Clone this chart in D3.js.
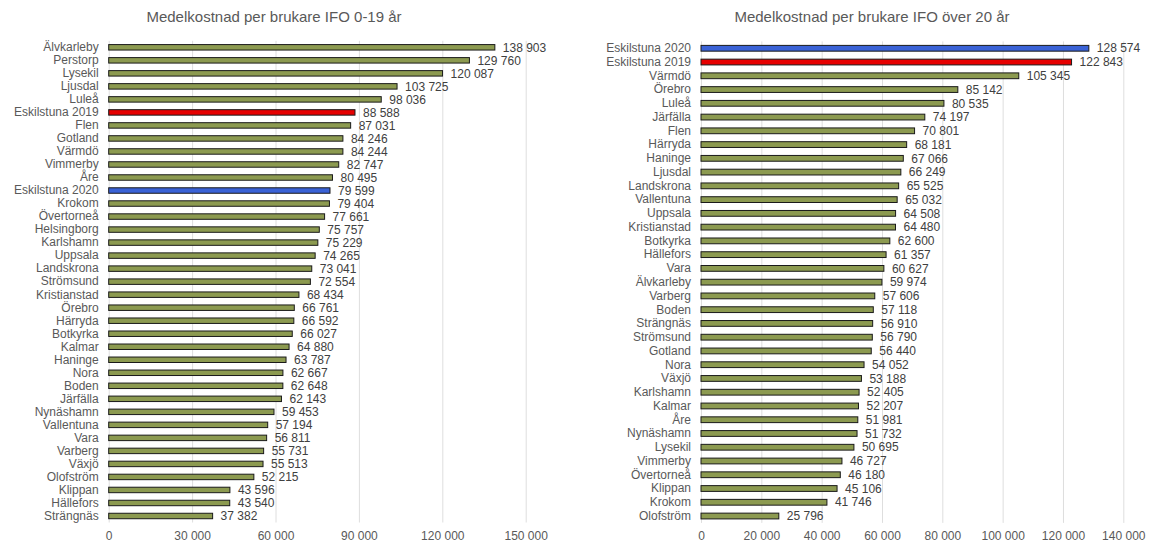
<!DOCTYPE html>
<html>
<head>
<meta charset="utf-8">
<script src="https://cdn.jsdelivr.net/npm/d3@7"></script>
<style>
  body { margin: 0; background: #fff; }
  svg { display: block; font-family: "Liberation Sans", Arial, sans-serif; }
</style>
</head>
<body>
<svg width="1153" height="544"></svg>
<script>
// IFO 0-19 år
var youngNames = ["Älvkarleby", "Perstorp", "Lysekil", "Ljusdal", "Luleå", "Eskilstuna 2019", "Flen", "Gotland",
  "Värmdö", "Vimmerby", "Åre", "Eskilstuna 2020", "Krokom", "Övertorneå", "Helsingborg", "Karlshamn", "Uppsala",
  "Landskrona", "Strömsund", "Kristianstad", "Örebro", "Härryda", "Botkyrka", "Kalmar", "Haninge", "Nora", "Boden",
  "Järfälla", "Nynäshamn", "Vallentuna", "Vara", "Varberg", "Växjö", "Olofström", "Klippan", "Hällefors", "Strängnäs"];
var youngValues = [138903, 129760, 120087, 103725, 98036, 88588, 87031, 84246,
  84244, 82747, 80495, 79599, 79404, 77661, 75757, 75229, 74265,
  73041, 72554, 68434, 66761, 66592, 66027, 64880, 63787, 62667, 62648,
  62143, 59453, 57194, 56811, 55731, 55513, 52215, 43596, 43540, 37382];
var youngTicks = [0, 30000, 60000, 90000, 120000, 150000];

// IFO över 20 år
var adultNames = ["Eskilstuna 2020", "Eskilstuna 2019", "Värmdö", "Örebro", "Luleå", "Järfälla", "Flen", "Härryda",
  "Haninge", "Ljusdal", "Landskrona", "Vallentuna", "Uppsala", "Kristianstad", "Botkyrka", "Hällefors", "Vara",
  "Älvkarleby", "Varberg", "Boden", "Strängnäs", "Strömsund", "Gotland", "Nora", "Växjö", "Karlshamn", "Kalmar",
  "Åre", "Nynäshamn", "Lysekil", "Vimmerby", "Övertorneå", "Klippan", "Krokom", "Olofström"];
var adultValues = [128574, 122843, 105345, 85142, 80535, 74197, 70801, 68181,
  67066, 66249, 65525, 65032, 64508, 64480, 62600, 61357, 60627,
  59974, 57606, 57118, 56910, 56790, 56440, 54052, 53188, 52405, 52207,
  51981, 51732, 50695, 46727, 46180, 45106, 41746, 25796];
var adultTicks = [0, 20000, 40000, 60000, 80000, 100000, 120000, 140000];

var sv = d3.formatLocale({decimal: ",", thousands: " ", grouping: [3], currency: ["", " kr"]});
var fmt = sv.format(",d");

var svg = d3.select("svg");

function barColor(name) {
  if (name == "Eskilstuna 2019") return "#e60000";
  if (name == "Eskilstuna 2020") return "#3a62d6";
  return "#8c9a50";
}

function drawChart(cfg) {
  var data = cfg.names.map(function(n, i) { return {name: n, value: cfg.values[i]}; });

  var x = d3.scaleLinear().domain([0, cfg.max]).range([cfg.left, cfg.right]);
  var y = d3.scaleBand().domain(cfg.names).range([cfg.top, cfg.bottom]).paddingInner(0.58).paddingOuter(0.29);

  var g = svg.append("g");

  g.append("text")
    .attr("x", cfg.titleX)
    .attr("y", 17)
    .attr("dy", "0.35em")
    .attr("text-anchor", "middle")
    .attr("fill", "#595959")
    .style("font-size", "15px")
    .text(cfg.title);

  // x axis + gridlines
  var xAxis = g.append("g")
    .attr("transform", "translate(0," + cfg.bottom + ")")
    .call(d3.axisBottom(x).tickValues(cfg.ticks).tickFormat(fmt)
      .tickSize(-(cfg.bottom - cfg.top)).tickPadding(9));
  xAxis.select(".domain").remove();
  xAxis.selectAll("line").attr("stroke", "#dedede");
  xAxis.selectAll("text").attr("fill", "#595959").style("font-size", "12px");

  // category labels
  var yAxis = g.append("g")
    .attr("transform", "translate(" + cfg.left + ",0)")
    .call(d3.axisLeft(y).tickSize(0).tickPadding(10));
  yAxis.select(".domain").remove();
  yAxis.selectAll("text").attr("fill", "#595959").style("font-size", "12px");

  g.selectAll(".bar")
    .data(data)
    .join("rect")
    .attr("class", "bar")
    .attr("x", x(0))
    .attr("y", d => y(d.name))
    .attr("width", d => x(d.value) - x(0))
    .attr("height", y.bandwidth())
    .attr("fill", d => barColor(d.name))
    .attr("stroke", "#1a1a1a")
    .attr("stroke-width", 1);

  g.selectAll(".val")
    .data(data)
    .join("text")
    .attr("class", "val")
    .attr("x", d => x(d.value) + 8)
    .attr("y", d => y(d.name) + y.bandwidth() / 2)
    .attr("dy", "0.35em")
    .attr("fill", "#404040")
    .style("font-size", "12px")
    .text(d => fmt(d.value));
}

drawChart({
  title: "Medelkostnad per brukare IFO 0-19 år",
  titleX: 274,
  names: youngNames, values: youngValues, ticks: youngTicks, max: 150000,
  left: 108.7, right: 525.7, top: 40.8, bottom: 522.5
});

drawChart({
  title: "Medelkostnad per brukare IFO över 20 år",
  titleX: 872,
  names: adultNames, values: adultValues, ticks: adultTicks, max: 140000,
  left: 701, right: 1123.3, top: 41.4, bottom: 522.9
});
</script>
</body>
</html>
